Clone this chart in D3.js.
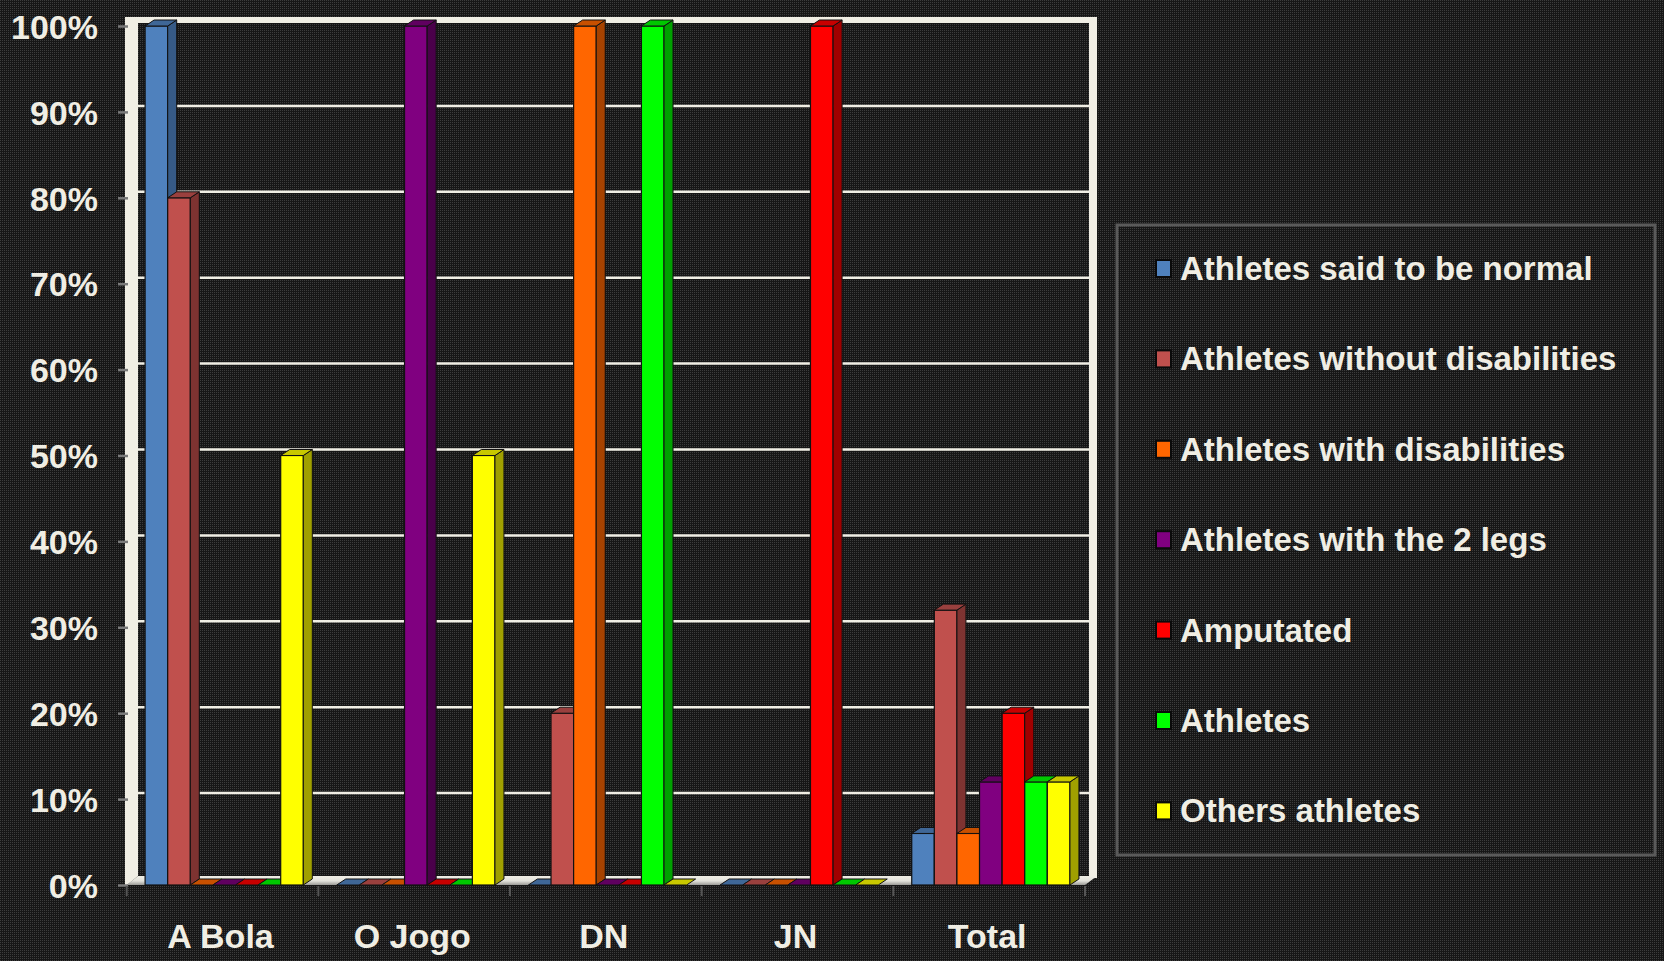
<!DOCTYPE html>
<html>
<head>
<meta charset="utf-8">
<script src="https://cdn.jsdelivr.net/npm/d3@7/dist/d3.min.js"></script>
<style>
html,body{margin:0;padding:0;background:#1e1e1e;}
svg{display:block;}
</style>
</head>
<body>
<svg id="chart" width="1664" height="961"></svg>
<script>
// ---- data ----
const categories = ["A Bola", "O Jogo", "DN", "JN", "Total"];
const seriesNames = [
  "Athletes said to be normal",
  "Athletes without disabilities",
  "Athletes with disabilities",
  "Athletes with the 2 legs",
  "Amputated",
  "Athletes",
  "Others athletes"
];
const saidNormal      = [100, 0, 0, 0, 6];
const withoutDisab    = [80, 0, 20, 0, 32];
const withDisab       = [0, 0, 100, 0, 6];
const twoLegs         = [0, 100, 0, 0, 12];
const amputated       = [0, 0, 0, 100, 20];
const athletes        = [0, 0, 100, 0, 12];
const othersAthletes  = [50, 50, 0, 0, 12];
const yTickValues = [0, 10, 20, 30, 40, 50, 60, 70, 80, 90, 100];

const seriesValues = [saidNormal, withoutDisab, withDisab, twoLegs, amputated, athletes, othersAthletes];

// ---- styles ----
const frontColors = ["#4F81BD", "#C0504D", "#FF6600", "#800080", "#FF0000", "#00FF00", "#FFFF00"];
const sideColors  = ["#365A86", "#7E3331", "#A64200", "#4A004A", "#A00000", "#00A000", "#A0A000"];
const topColors   = ["#3F6797", "#9A403E", "#C85000", "#600060", "#C80000", "#00C800", "#C8C800"];
const cream = "#F0EEE4";
const dx = 9, dy = 6;

const svg = d3.select("#chart");
const defs = svg.append("defs");
const pat = defs.append("pattern").attr("id", "bg").attr("width", 2).attr("height", 2)
  .attr("patternUnits", "userSpaceOnUse");
pat.append("rect").attr("width", 2).attr("height", 2).attr("fill", "#161616");
pat.append("rect").attr("width", 1).attr("height", 1).attr("fill", "#3c3c3c");
const fg = defs.append("linearGradient").attr("id", "floorGrad").attr("x1", 0).attr("y1", 0).attr("x2", 0).attr("y2", 1);
fg.append("stop").attr("offset", "0%").attr("stop-color", "#F0EFE6");
fg.append("stop").attr("offset", "55%").attr("stop-color", "#E2E1DA");
fg.append("stop").attr("offset", "100%").attr("stop-color", "#9A9A96");

svg.append("rect").attr("width", 1664).attr("height", 961).attr("fill", "url(#bg)");

// scales
const x0 = d3.scaleBand().domain(categories).range([126.7, 1085]);
const x1 = d3.scaleBand().domain(seriesNames).range([18.4, 176.6]);
const y = d3.scaleLinear().domain([0, 100]).range([885, 26]);
const yBase = y(0);

// back wall gridlines
const plot = svg.append("g");
plot.selectAll("line.grid").data(yTickValues.filter(d => d > 0 && d < 100)).join("line")
  .attr("x1", 138).attr("x2", 1089)
  .attr("y1", d => y(d) - dy).attr("y2", d => y(d) - dy)
  .attr("stroke", cream).attr("stroke-width", 2.5);

// walls
plot.append("rect").attr("x", 125).attr("y", 17).attr("width", 972).attr("height", 6).attr("fill", cream);
plot.append("path").attr("d", `M125,885 L125,24 Q125,17 132,17 L138,17 L138,${yBase - 9} L127,${yBase} Z`).attr("fill", cream);
plot.append("rect").attr("x", 1089).attr("y", 17).attr("width", 8).attr("height", yBase - 9 - 17 + 2).attr("fill", cream);

// floor
plot.append("path")
  .attr("d", `M126.7,${yBase} L1085,${yBase} L1097,${yBase - 9} L138,${yBase - 9} Z`)
  .attr("fill", "url(#floorGrad)");

// bars
const bars = [];
categories.forEach((c, ci) => {
  seriesNames.forEach((s, si) => {
    bars.push({c, s, si, v: seriesValues[si][ci]});
  });
});

const barG = plot.append("g");
bars.forEach(b => {
  const x = x0(b.c) + x1(b.s);
  const w = x1.bandwidth();
  const yt = y(b.v);
  const g = barG.append("g");
  if (b.v > 0) {
    g.append("rect").attr("x", x).attr("y", yt).attr("width", w).attr("height", yBase - yt)
      .attr("fill", frontColors[b.si]).attr("stroke", "#111").attr("stroke-width", 1.2);
    g.append("path")
      .attr("d", `M${x + w},${yt} L${x + w + dx},${yt - dy} L${x + w + dx},${yBase - dy} L${x + w},${yBase} Z`)
      .attr("fill", sideColors[b.si]).attr("stroke", "#111").attr("stroke-width", 1);
  }
  g.append("path")
    .attr("d", `M${x},${yt} L${x + dx},${yt - dy} L${x + w + dx},${yt - dy} L${x + w},${yt} Z`)
    .attr("fill", topColors[b.si]).attr("stroke", "#111").attr("stroke-width", 1);
});

// y axis
const yAxis = svg.append("g").attr("transform", "translate(128,0)")
  .call(d3.axisLeft(y).tickValues(yTickValues).tickFormat(d => d + "%").tickSize(10).tickPadding(20));
yAxis.select(".domain").remove();
yAxis.selectAll(".tick line").attr("stroke", "#7a7a7a").attr("stroke-width", 2.5);
yAxis.selectAll(".tick text")
  .attr("fill", cream)
  .style("font-family", "'Liberation Sans', Arial, sans-serif")
  .style("font-weight", "bold")
  .style("font-size", "34px")
  .attr("dy", "0.36em");

// x axis
const xAxis = svg.append("g").attr("transform", `translate(0,${yBase})`)
  .call(d3.axisBottom(x0).tickSize(0).tickPadding(39));
xAxis.select(".domain").remove();
xAxis.selectAll(".tick text")
  .attr("fill", cream)
  .attr("dx", "-2")
  .style("font-family", "'Liberation Sans', Arial, sans-serif")
  .style("font-weight", "bold")
  .style("font-size", "34px");
// boundary tick marks
svg.append("g").selectAll("line").data(categories.concat(["_end"])).join("line")
  .attr("x1", (d, i) => x0.range()[0] + i * x0.step())
  .attr("x2", (d, i) => x0.range()[0] + i * x0.step())
  .attr("y1", yBase + 1).attr("y2", yBase + 11)
  .attr("stroke", "#555").attr("stroke-width", 2);

// legend
const legend = svg.append("g");
legend.append("rect").attr("x", 1117).attr("y", 225).attr("width", 538).attr("height", 630)
  .attr("fill", "none").attr("stroke", "#5a5a5a").attr("stroke-width", 3);
const items = legend.selectAll("g.item").data(seriesNames).join("g")
  .attr("transform", (d, i) => `translate(0,${280 + i * 90.4})`);
items.append("rect").attr("x", 1156).attr("y", -20).attr("width", 15).attr("height", 17)
  .attr("fill", (d, i) => frontColors[i]).attr("stroke", "#0a0a0a").attr("stroke-width", 2);
items.append("text").attr("x", 1180).attr("y", 0)
  .attr("fill", cream)
  .style("font-family", "'Liberation Sans', Arial, sans-serif")
  .style("font-weight", "bold")
  .style("font-size", "33px")
  .text(d => d);
</script>
</body>
</html>
